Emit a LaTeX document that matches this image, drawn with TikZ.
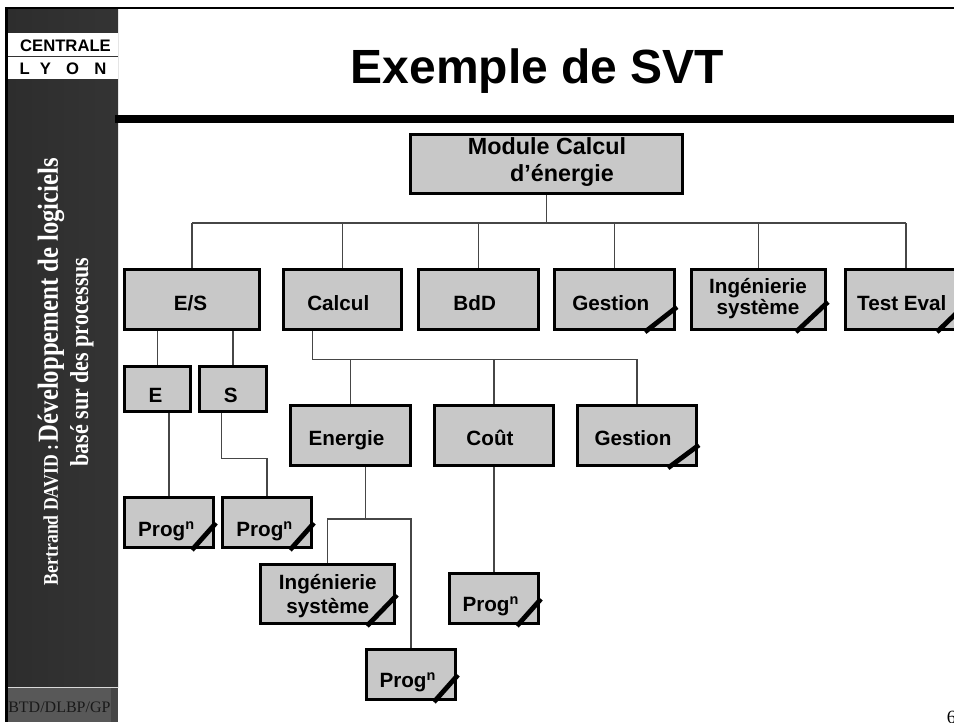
\documentclass[tikz,border=0pt]{standalone}
\usepackage{fontspec}
\setmainfont{Liberation Serif}
\setsansfont{Liberation Sans}
\usetikzlibrary{calc}

\definecolor{boxfill}{RGB}{200,200,200}
\definecolor{lineg}{RGB}{70,70,70}
\definecolor{sideA}{RGB}{45,45,45}
\definecolor{sideB}{RGB}{92,92,92}
\definecolor{sideC}{RGB}{52,52,52}
\definecolor{sideLow}{RGB}{88,88,88}
\definecolor{sideStrip}{RGB}{70,70,70}

\newcommand\mkbox[5]{%
  \node[svtbox, minimum width={(#4-#2-3)*0.75pt}, minimum height={(#5-#3-3)*0.75pt}] (#1) at ({(#2+#4)/2},{(#3+#5)/2}) {};}
\newcommand\mkslash[3]{%
  \draw[slash] ($(#1.south east)+(-#2,1)$) -- ($(#1.south east)+(1,-#3)$);}

\begin{document}
\begin{tikzpicture}[x=0.75pt,y=-0.75pt,
  svtbox/.style={draw=black, line width=2.2pt, fill=boxfill, inner sep=0pt},
  lbl/.style={font=\sffamily\bfseries\fontsize{15.5}{15}\selectfont, align=center, inner sep=0pt},
  conn/.style={draw=lineg, line width=0.9pt},
  slash/.style={line width=3.6pt, draw=black},
  sidetxt/.style={font=\rmfamily\bfseries, text=white, rotate=90, inner sep=0pt}]

\useasboundingbox (0,0) rectangle (954,722);
\clip (0,0) rectangle (954,722);
\fill[white] (0,0) rectangle (954,722);

% ---- side bar
\shade[left color=sideA, middle color=sideB, right color=sideC] (8,8) rectangle (118,687);
\fill[sideLow] (8,687) rectangle (110.7,722);
\fill[sideStrip] (110.7,687) rectangle (118,722);
\draw[white!70!gray, line width=0.6pt] (8,687) -- (118,687);
\fill[black] (5,8) rectangle (8,722);
\draw[black, line width=1.9pt] (5,8) -- (954,8);
\draw[black, line width=5.3pt] (115,119) -- (954,119);

% logo
\fill[white] (8,33.3) rectangle (118,79);
\draw[black!80, line width=0.8pt] (8,56.7) -- (118,56.7);
\node[font=\sffamily\bfseries\fontsize{12.5}{14}\selectfont, anchor=base, inner sep=0pt] (centrale) at (65.5,51.7) {CENTRALE};
\node[font=\sffamily\bfseries\fontsize{12.5}{14}\selectfont, anchor=base, inner sep=0pt] (lyon) at (63,74) {L\hspace{7.6pt}Y\hspace{11.4pt}O\hspace{11.5pt}N};

% side texts
\node[sidetxt] (sideone) at (51,371.5) {\scalebox{0.85}[1]{{\fontsize{15.6}{18}\selectfont Bertrand DAVID :} {\fontsize{21.8}{24}\selectfont Développement de logiciels}}};
\node[sidetxt] (sidetwo) at (82,362) {\scalebox{0.85}[1]{\fontsize{19.4}{22}\selectfont basé sur des processus}};
\node[font=\rmfamily\fontsize{12}{14}\selectfont, text=black!90, anchor=base west, inner sep=0pt] (btd) at (8,712.7) {BTD/DLBP/GP};
\node[font=\rmfamily\fontsize{14}{16}\selectfont, anchor=base west, inner sep=0pt] (pagenum) at (946.5,723) {6};

% title
\node[font=\sffamily\bfseries\fontsize{36}{40}\selectfont, anchor=base, inner sep=0pt] (title) at (537.5,83) {Exemple de SVT};

% ---- boxes
\mkbox{top}{409}{133}{684}{195}
\mkbox{es}{123}{268}{261}{331}
\mkbox{calcul}{282}{268}{403}{331}
\mkbox{bdd}{417}{268}{540}{331}
\mkbox{gestA}{553}{268}{676}{331}
\mkbox{ingA}{690}{268}{827}{331}
\mkbox{test}{844}{268}{968}{331}
\mkbox{e}{123}{365}{192}{413}
\mkbox{s}{198}{365}{268}{413}
\mkbox{energie}{289}{404}{412}{467}
\mkbox{cout}{433}{404}{555}{467}
\mkbox{gestB}{576}{404}{698}{467}
\mkbox{progA}{123}{496}{215}{549}
\mkbox{progB}{221}{496}{313}{549}
\mkbox{ingB}{259}{563}{396}{625}
\mkbox{progC}{448}{572}{540}{625}
\mkbox{progD}{365}{648}{457}{701}

% ---- connectors
\coordinate (busA) at (546.5,223);
\draw[conn] (top.south) -- (busA);
\draw[conn] (es.north |- busA) -- (test.north |- busA);
\foreach \n in {es,calcul,bdd,gestA,ingA,test} {\draw[conn] (\n.north |- busA) -- (\n.north);}

\draw[conn] (e.north) -- (e.north |- es.south);
\draw[conn] (s.north) -- (s.north |- es.south);

\coordinate (busB) at (312.3,359.3);
\draw[conn] (calcul.south -| busB) -- (busB) -| (gestB.north);
\draw[conn] (energie.north |- busB) -- (energie.north);
\draw[conn] (cout.north |- busB) -- (cout.north);

\draw[conn] (progA.north) -- (progA.north |- e.south);
\coordinate (busS) at (221.7,458.3);
\draw[conn] (s.south -| busS) -- (busS) -| (progB.north);

\coordinate (busC) at (365.7,519);
\draw[conn] (energie.south -| busC) -- (busC);
\draw[conn] (ingB.north) -- (ingB.north |- busC) -- (progD.north |- busC) -- (progD.north);
\draw[conn] (cout.south) -- (progC.north);

% ---- slashes
\mkslash{gestA}{31}{24}
\mkslash{ingA}{31}{29}
\mkslash{test}{31}{30}
\mkslash{gestB}{30}{22}
\mkslash{progA}{23}{26}
\mkslash{progB}{23}{26}
\mkslash{ingB}{29}{30}
\mkslash{progC}{23}{26}
\mkslash{progD}{23}{26}

% ---- labels
\node[font=\sffamily\bfseries\fontsize{17.5}{20}\selectfont, align=center, inner sep=0pt] (top-t) at (547,162.3) {Module Calcul\\\hspace{22.5pt}d’énergie};
\node[lbl, anchor=base] (es-t) at (190.6,310) {E/S};
\node[lbl, anchor=base] (calcul-t) at (338.3,310) {Calcul};
\node[lbl, anchor=base] (bdd-t) at (474.7,310) {BdD};
\node[lbl, anchor=base] (gestA-t) at (610.8,310) {Gestion};
\node[lbl, font=\sffamily\bfseries\fontsize{15.5}{13.7}\selectfont] (ingA-t) at (758,298.6) {Ingénierie\\système};
\node[lbl, anchor=base] (test-t) at (901.8,310) {Test Eval};
\node[lbl, anchor=base] (e-t) at (155.5,402.7) {E};
\node[lbl, anchor=base] (s-t) at (230.8,402.7) {S};
\node[lbl, anchor=base] (energie-t) at (346.5,445) {Energie};
\node[lbl, anchor=base] (cout-t) at (490,445) {Coût};
\node[lbl, anchor=base] (gestB-t) at (633,445) {Gestion};
\node[lbl, anchor=base] (progA-t) at (166.5,536) {Prog\textsuperscript{n}};
\node[lbl, anchor=base] (progB-t) at (264.7,536) {Prog\textsuperscript{n}};
\node[lbl, font=\sffamily\bfseries\fontsize{15.5}{18}\selectfont] (ingB-t) at (327.8,596.5) {Ingénierie\\système};
\node[lbl, anchor=base] (progC-t) at (490.8,611) {Prog\textsuperscript{n}};
\node[lbl, anchor=base] (progD-t) at (407.8,687.3) {Prog\textsuperscript{n}};
\end{tikzpicture}
\end{document}
